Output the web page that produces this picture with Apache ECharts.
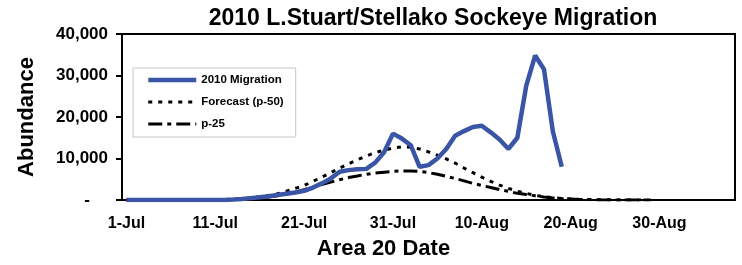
<!DOCTYPE html>
<html><head><meta charset="utf-8">
<script src="https://cdn.jsdelivr.net/npm/echarts@6/dist/echarts.min.js"></script>
<style>html,body{margin:0;padding:0;background:#fff}#c{width:742px;height:265px}</style>
</head><body><div id="c"></div>
<script>
// Categories: days from 1-Jul to 7-Sep
const monthNames = ['Jul', 'Aug', 'Sep'];
const monthDays = [31, 31, 7];
const dates = [];
for (let m = 0; m < monthNames.length; m++) {
  for (let d = 1; d <= monthDays[m]; d++) dates.push(d + '-' + monthNames[m]);
}
const seriesNames = ['2010 Migration', 'Forecast (p-50)', 'p-25'];
const migration = [0,0,0,0,0,0,0,0,0,0,0,0,100,250,450,650,900,1200,1500,1800,
  2200,3000,4000,5200,6800,7200,7400,7500,9000,11500,
  16000,14800,13200,8000,8400,10000,12300,15500,16600,17600,
  17900,16300,14600,12300,15000,27500,34800,31500,16500,8000];
const forecastP50 = [0,0,0,0,0,0,0,0,0,0,50,100,200,350,550,800,1100,1500,2100,2800,
  3500,4500,5500,6600,7700,8700,9700,10600,11400,12000,
  12500,12800,12700,12300,11600,10800,9900,8900,7700,6600,
  5500,4500,3600,2800,2100,1600,1100,800,550,350,
  250,150,100,70,50,30,20,10,0,0];
const p25 = [0,0,0,0,0,0,0,0,0,0,30,60,120,200,300,500,700,1000,1400,1900,
  2500,3100,3700,4300,4900,5400,5800,6200,6500,6700,
  6900,7000,7000,6900,6600,6200,5700,5200,4600,4000,
  3500,3000,2500,2100,1600,1300,1000,700,500,350,
  250,150,100,60,30,10,0,0,0,0];
const yTicks = { min: 0, max: 40000, interval: 10000 };

const font = 'Liberation Sans, Arial, sans-serif';
const chart = echarts.init(document.getElementById('c'));
chart.setOption({
  animation: false,
  title: {
    text: '2010 L.Stuart/Stellako Sockeye Migration',
    left: 428, top: 2, textAlign: 'center',
    textStyle: { fontFamily: font, fontWeight: 'bold', fontSize: 23, color: '#000' }
  },
  grid: { left: 122, right: 7, top: 34, bottom: 63, show: true, borderColor: '#000', borderWidth: 2, containLabel: false },
  legend: {
    orient: 'vertical', left: 133, top: 68,
    padding: [6, 12, 7, 13],
    itemWidth: 48, itemHeight: 14, itemGap: 10,
    borderColor: '#c8c8c8', borderWidth: 1, backgroundColor: '#fff',
    itemStyle: { opacity: 0 },
    lineStyle: { width: 'inherit' },
    textStyle: { fontFamily: font, fontWeight: 'bold', fontSize: 11.5, color: '#000' },
    data: seriesNames
  },
  xAxis: {
    type: 'category', data: dates, boundaryGap: true,
    name: 'Area 20 Date', nameLocation: 'middle', nameGap: 38,
    nameTextStyle: { fontFamily: font, fontWeight: 'bold', fontSize: 22, color: '#000', padding: [0, 90, 0, 0] },
    axisLine: { lineStyle: { color: '#000', width: 2 } },
    axisTick: { interval: 9, length: 7, inside: false, lineStyle: { color: '#000', width: 2 } },
    axisLabel: { interval: 9, margin: 16, fontFamily: font, fontWeight: 'bold', fontSize: 16, color: '#000' },
    splitLine: { show: false }
  },
  yAxis: {
    type: 'value', min: yTicks.min, max: yTicks.max, interval: yTicks.interval,
    name: 'Abundance', nameLocation: 'middle', nameGap: 84, nameRotate: 90,
    nameTextStyle: { fontFamily: font, fontWeight: 'bold', fontSize: 22, color: '#000' },
    axisLine: { show: true, lineStyle: { color: '#000', width: 2 } },
    axisTick: { show: true, length: 6, lineStyle: { color: '#000', width: 2 } },
    axisLabel: {
      margin: 14, fontFamily: font, fontWeight: 'bold', fontSize: 17, color: '#000',
      formatter: v => v === 0 ? '{d|-}' : v.toLocaleString('en-US'),
      rich: { d: { fontFamily: font, fontWeight: 'bold', fontSize: 17, color: '#000', padding: [0, 18, 0, 0] } }
    },
    splitLine: { show: false }
  },
  series: [
    { name: seriesNames[0], type: 'line', data: migration, symbol: 'none', z: 5,
      lineStyle: { color: '#3a54a6', width: 4.5 }, itemStyle: { color: '#3a54a6' } },
    { name: seriesNames[1], type: 'line', data: forecastP50, symbol: 'none', z: 3,
      lineStyle: { color: '#000', width: 3, type: [4, 6] }, itemStyle: { color: '#000' } },
    { name: seriesNames[2], type: 'line', data: p25, symbol: 'none', z: 3,
      lineStyle: { color: '#000', width: 3, type: [14, 5, 4, 5] }, itemStyle: { color: '#000' } }
  ]
});
</script></body></html>
